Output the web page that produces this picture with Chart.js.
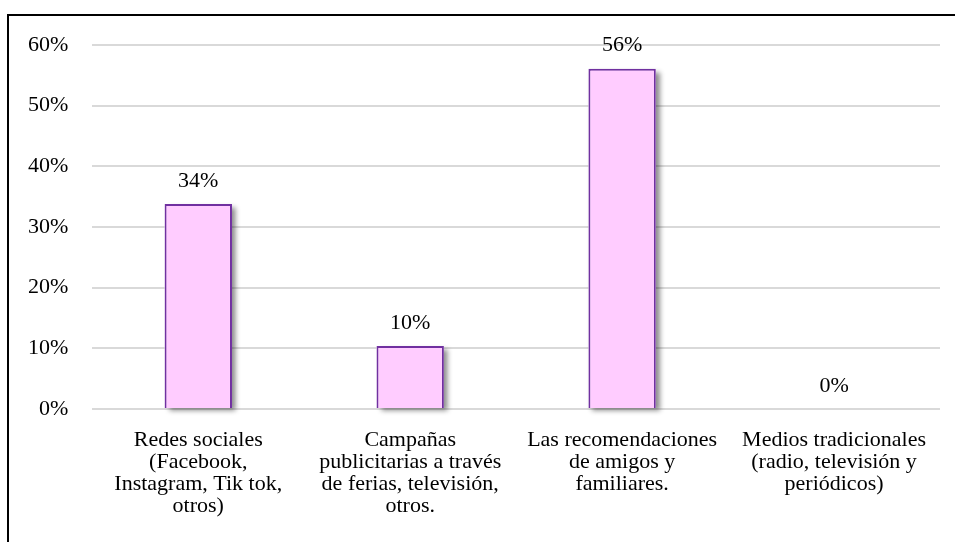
<!DOCTYPE html>
<html><head><meta charset="utf-8">
<script src="https://cdn.jsdelivr.net/npm/chart.js@4/dist/chart.umd.min.js"></script>
<style>
html,body{margin:0;padding:0;background:#fff;overflow:hidden;}
#wrap{position:absolute;left:0;top:0;width:955px;height:542px;}
#frame{position:absolute;left:7px;top:14px;width:970px;height:560px;border:2px solid #000;box-sizing:border-box;pointer-events:none;}
</style></head><body>
<div id="wrap"><canvas id="c"></canvas></div>
<div id="frame"></div>
<script>
const categories = [
  ["Redes sociales","(Facebook,","Instagram, Tik tok,","otros)"],
  ["Campañas","publicitarias a través","de ferias, televisión,","otros."],
  ["Las recomendaciones","de amigos y","familiares."],
  ["Medios tradicionales","(radio, televisión y","periódicos)"]
];
const values = [33.8, 10.4, 56.1, 0];
const valueLabels = ["34%","10%","56%","0%"];
const yTicks = [0,10,20,30,40,50,60];

const FONT = '"Liberation Serif", "Times New Roman", serif';

const labelPlugin = {
  id:'valLabels',
  afterDatasetsDraw(chart){
    const ctx = chart.ctx;
    const meta = chart.getDatasetMeta(0);
    ctx.save();
    ctx.font = '22px ' + FONT;
    ctx.fillStyle = '#000';
    ctx.textAlign = 'center';
    ctx.textBaseline = 'middle';
    meta.data.forEach((bar,i)=>{
      ctx.fillText(valueLabels[i], bar.x, bar.y - 23);
    });
    ctx.restore();
  }
};
const shadowPlugin = {
  id:'shadow',
  beforeDatasetsDraw(chart){
    const ctx = chart.ctx;
    const meta = chart.getDatasetMeta(0);
    ctx.save();
    ctx.shadowColor = 'rgba(0,0,0,0.45)';
    ctx.shadowBlur = 5;
    ctx.shadowOffsetX = 4;
    ctx.shadowOffsetY = 3;
    ctx.fillStyle = '#ffffff';
    meta.data.forEach((bar)=>{
      const h = bar.base - bar.y;
      if (h <= 0) return;
      ctx.fillRect(bar.x - bar.width/2, bar.y, bar.width, h);
    });
    ctx.restore();
  }
};

new Chart(document.getElementById('c'), {
  type:'bar',
  data:{ labels: categories, datasets:[{
    data: values,
    backgroundColor:'#ffccff',
    borderColor:'#7030a0',
    borderWidth:2,
    categoryPercentage:1.0,
    barPercentage:0.318
  }]},
  options:{
    responsive:true, maintainAspectRatio:false, animation:false,
    layout:{padding:{left:4,right:15,top:45,bottom:13}},
    plugins:{legend:{display:false},tooltip:{enabled:false}},
    scales:{
      x:{
        grid:{display:false},
        border:{display:false},
        ticks:{color:'#000',font:{family:FONT,size:22,lineHeight:1.0},maxRotation:0,autoSkip:false,padding:12}
      },
      y:{
        min:0,max:60,
        afterBuildTicks(axis){ axis.ticks = yTicks.map(v=>({value:v})); },
        grid:{color:'#d9d9d9',lineWidth:2,drawTicks:false},
        border:{display:false},
        ticks:{color:'#000',font:{family:FONT,size:22},padding:24,callback:v=>v+'%'}
      }
    }
  },
  plugins:[shadowPlugin,labelPlugin]
});
</script>
</body></html>
